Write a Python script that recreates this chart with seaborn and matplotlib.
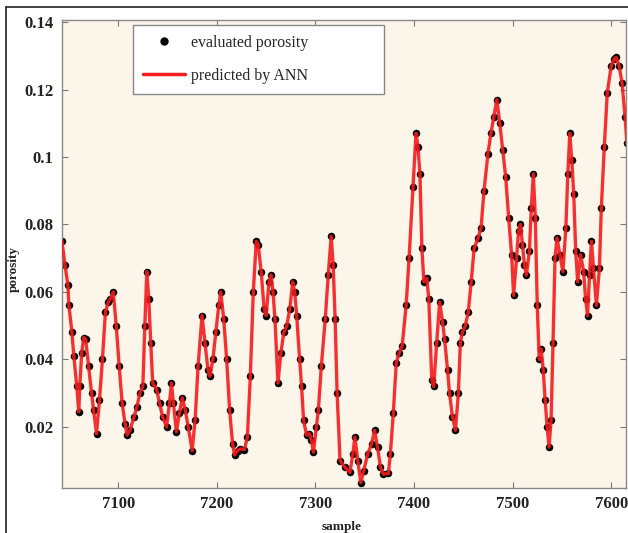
import matplotlib
matplotlib.use("Agg")
import matplotlib.pyplot as plt
from matplotlib.lines import Line2D
import seaborn as sns
import numpy as np
import pandas as pd

samples = [7043, 7046, 7049, 7050, 7053, 7055, 7058, 7060, 7061, 7063, 7065, 7067, 7070, 7073, 7075,
           7078, 7081, 7084, 7087, 7090, 7092, 7095, 7098, 7101, 7104, 7107, 7109, 7112, 7116, 7119,
           7122, 7125, 7127, 7129, 7131, 7133, 7135, 7139, 7142, 7145, 7149, 7152, 7154, 7156, 7159,
           7162, 7165, 7168, 7171, 7175, 7178, 7181, 7185, 7188, 7191, 7193, 7196, 7199, 7202, 7204,
           7207, 7210, 7213, 7216, 7218, 7221, 7224, 7228, 7231, 7234, 7237, 7240, 7242, 7245, 7248,
           7250, 7253, 7255, 7257, 7259, 7262, 7265, 7268, 7271, 7274, 7277, 7279, 7281, 7284, 7286,
           7288, 7291, 7294, 7296, 7298, 7301, 7303, 7306, 7310, 7313, 7316, 7318, 7320, 7322, 7325,
           7330, 7335, 7338, 7340, 7343, 7346, 7349, 7353, 7357, 7360, 7363, 7366, 7369, 7374, 7376,
           7379, 7382, 7385, 7388, 7392, 7395, 7399, 7402, 7404, 7406, 7408, 7410, 7413, 7415, 7418,
           7420, 7423, 7426, 7429, 7431, 7434, 7436, 7439, 7442, 7445, 7447, 7449, 7452, 7455, 7458,
           7461, 7465, 7468, 7471, 7475, 7478, 7481, 7484, 7487, 7490, 7493, 7496, 7499, 7501, 7504,
           7506, 7508, 7510, 7512, 7514, 7517, 7519, 7521, 7523, 7525, 7527, 7529, 7531, 7533, 7535,
           7537, 7539, 7541, 7543, 7545, 7548, 7551, 7554, 7556, 7558, 7560, 7562, 7564, 7566, 7569,
           7572, 7574, 7576, 7578, 7580, 7582, 7585, 7588, 7590, 7593, 7596, 7600, 7603, 7605, 7608,
           7611, 7614, 7616]

evaluated = [0.075, 0.068, 0.062, 0.056, 0.0482, 0.041, 0.032, 0.0245, 0.032, 0.042, 0.0465, 0.046, 0.038, 0.030, 0.025,
             0.018, 0.028, 0.040, 0.054, 0.057, 0.058, 0.060, 0.050, 0.038, 0.027, 0.021, 0.0176, 0.019, 0.023, 0.026,
             0.030, 0.032, 0.050, 0.066, 0.058, 0.045, 0.033, 0.031, 0.027, 0.023, 0.020, 0.027, 0.033, 0.027, 0.0186,
             0.024, 0.0286, 0.025, 0.020, 0.013, 0.022, 0.038, 0.053, 0.045, 0.037, 0.035, 0.040, 0.048, 0.056, 0.060,
             0.052, 0.040, 0.025, 0.015, 0.0117, 0.013, 0.0135, 0.0133, 0.017, 0.035, 0.060, 0.075, 0.074, 0.066, 0.055,
             0.053, 0.063, 0.065, 0.060, 0.052, 0.033, 0.042, 0.048, 0.050, 0.055, 0.063, 0.060, 0.053, 0.040, 0.032,
             0.022, 0.0176, 0.018, 0.016, 0.0125, 0.020, 0.025, 0.038, 0.052, 0.065, 0.0765, 0.068, 0.052, 0.030, 0.010,
             0.008, 0.0065, 0.012, 0.017, 0.010, 0.0035, 0.007, 0.012, 0.015, 0.019, 0.014, 0.008, 0.006, 0.0062, 0.012,
             0.024, 0.039, 0.042, 0.044, 0.056, 0.070, 0.091, 0.107, 0.103, 0.095, 0.073, 0.063, 0.064, 0.058, 0.034,
             0.032, 0.045, 0.057, 0.051, 0.046, 0.037, 0.030, 0.023, 0.019, 0.030, 0.045, 0.048, 0.050, 0.054, 0.063,
             0.073, 0.076, 0.079, 0.090, 0.101, 0.107, 0.112, 0.117, 0.110, 0.102, 0.094, 0.082, 0.071, 0.059, 0.070,
             0.078, 0.080, 0.074, 0.068, 0.065, 0.072, 0.085, 0.095, 0.082, 0.056, 0.040, 0.043, 0.037, 0.028, 0.020,
             0.014, 0.022, 0.045, 0.070, 0.076, 0.071, 0.066, 0.079, 0.095, 0.107, 0.099, 0.089, 0.072, 0.063, 0.071,
             0.066, 0.058, 0.053, 0.065, 0.075, 0.067, 0.056, 0.067, 0.085, 0.103, 0.119, 0.127, 0.129, 0.1295, 0.127,
             0.122, 0.112, 0.104]

predicted = list(evaluated)

xticks = [7100, 7200, 7300, 7400, 7500, 7600]
yticks = [0.02, 0.04, 0.06, 0.08, 0.1, 0.12, 0.14]
ytick_labels = ["0.02", "0.04", "0.06", "0.08", "0.1", "0.12", "0.14"]

df = pd.DataFrame({"sample": samples, "evaluated": evaluated, "predicted": predicted})

sns.set_style("ticks")
plt.rcParams["font.family"] = ["Liberation Serif", "DejaVu Serif"]

W, H = 628, 533
fig = plt.figure(figsize=(W / 100, H / 100), dpi=100)
fig.patch.set_facecolor("white")
ax = fig.add_axes([62 / W, 1 - 488 / H, (626 - 62) / W, (488 - 20) / H])
ax.set_facecolor("#FCF5EA")

sns.scatterplot(data=df, x="sample", y="evaluated", ax=ax, color="black", s=26,
                edgecolor="black", linewidth=0.3, zorder=2, legend=False)
sns.lineplot(data=df, x="sample", y="predicted", ax=ax, color="#F41C1C", linewidth=2.4,
             estimator=None, sort=False, zorder=3, alpha=0.9, legend=False)

ax.set_xlim(7043, 7615)
ax.set_ylim(0.0019, 0.1406)
ax.set_xticks(xticks)
ax.set_xticklabels([str(t) for t in xticks])
ax.set_yticks(yticks)
ax.set_yticklabels(ytick_labels)

for lab in ax.get_xticklabels() + ax.get_yticklabels():
    lab.set_fontweight("bold")
    lab.set_fontsize(12)
    lab.set_color("#222222")

ax.tick_params(direction="in", top=True, right=True, length=4, width=0.8,
               color="#777777", pad=6)
for sp in ax.spines.values():
    sp.set_color("#888888")
    sp.set_linewidth(1.0)
    sp.set_visible(True)

ax.set_xlabel("sample", fontsize=9.5, fontweight="bold", color="#222222", labelpad=6)
ax.set_ylabel("porosity", fontsize=9.5, fontweight="bold", color="#222222", labelpad=4)
ax.xaxis.set_label_coords((342 - 62) / (626 - 62), -(521 - 488) / (488 - 20))
ax.yaxis.set_label_coords(-(62 - 20) / (626 - 62), (488 - 269) / (488 - 20))

handles = [Line2D([], [], marker="o", color="black", linestyle="none", markersize=5),
           Line2D([], [], color="#F41C1C", linewidth=2.5)]
lx0 = (133 - 62) / 564
lw_ = (384 - 133) / 564
ltop = (488 - 24.5) / 468
lh = 69 / 468
leg = ax.legend(handles, ["evaluated porosity", "predicted by ANN"],
                loc="upper left", bbox_to_anchor=(lx0, ltop - lh, lw_, lh), mode="expand",
                frameon=True, fancybox=False, framealpha=1, facecolor="white",
                edgecolor="#888888", fontsize=11.5, handlelength=2.6, handletextpad=0.4,
                borderpad=0.65, labelspacing=1.05, borderaxespad=0)
leg.get_frame().set_linewidth(1.0)

# outer frame of the figure image
fig.add_artist(Line2D([6 / W, 1.0], [1 - 7 / H, 1 - 7 / H], transform=fig.transFigure,
                      color="#333333", linewidth=1.3))
fig.add_artist(Line2D([6 / W, 6 / W], [0.0, 1 - 7 / H], transform=fig.transFigure,
                      color="#333333", linewidth=1.3))

fig.savefig("out.png", dpi=100, facecolor="white")
